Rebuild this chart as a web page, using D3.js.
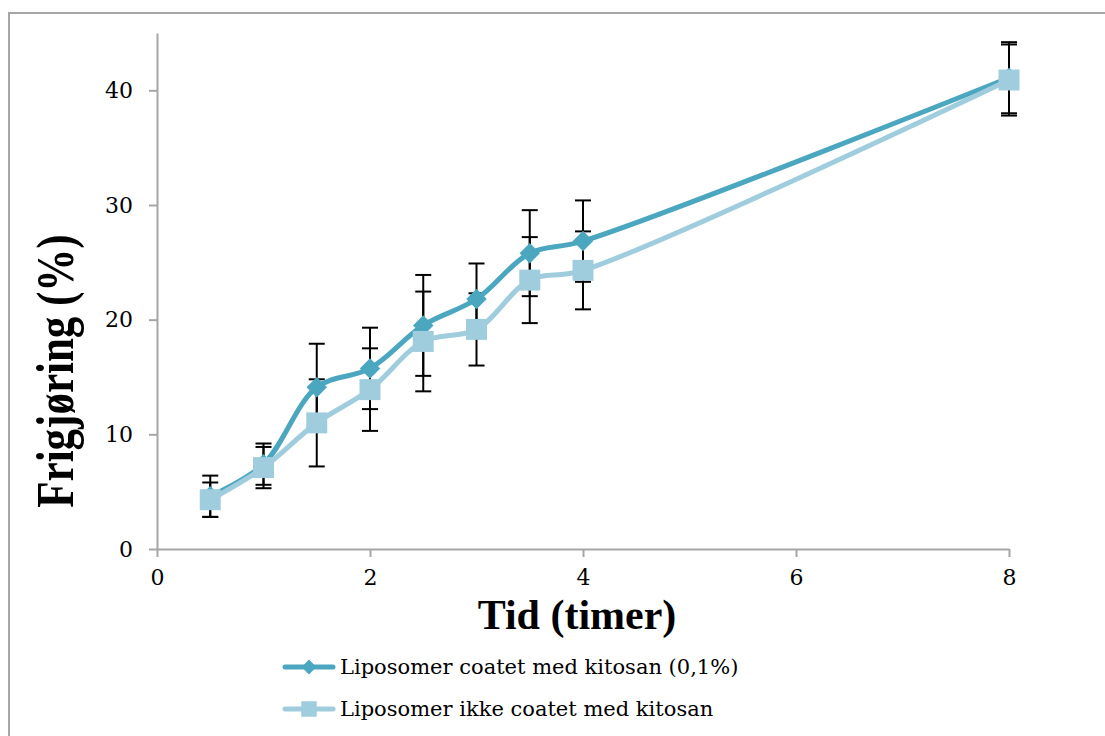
<!DOCTYPE html>
<html>
<head>
<meta charset="utf-8">
<script src="https://cdn.jsdelivr.net/npm/d3@7"></script>
<style>
	body { margin: 0; background: #fff; }
</style>
</head>
<body>
<div id="chart-area"></div>
<script>
// data
var times = [0.5, 1, 1.5, 2, 2.5, 3, 3.5, 4, 8];
var coated = [4.6, 7.4, 14.1, 15.75, 19.5, 21.8, 25.8, 26.85, 41.1];
var coatedErr = [1.8, 1.8, 3.8, 3.55, 4.4, 3.1, 3.75, 3.55, 3.1];
var uncoated = [4.3, 7.1, 11.0, 13.9, 18.1, 19.15, 23.45, 24.3, 40.9];
var uncoatedErr = [1.5, 1.8, 3.8, 3.6, 4.35, 3.15, 3.75, 3.4, 3.1];
var seriesNames = ["Liposomer coatet med kitosan (0,1%)", "Liposomer ikke coatet med kitosan"];
var xTicks = [0, 2, 4, 6, 8];
var yTicks = [0, 10, 20, 30, 40];

var colors = ["#4ba7bf", "#a0cddd"];
var axisColor = "#a6a6a6";
var labelFont = "'DejaVu Serif', serif";
var titleFont = "'Liberation Serif', serif";

var W = 1105, H = 736;
var svg = d3.select("#chart-area")
	.append("svg")
		.attr("width", W)
		.attr("height", H);

// outer chart border (runs off the page right and bottom)
svg.append("rect")
	.attr("x", 9).attr("y", 13)
	.attr("width", 1120).attr("height", 760)
	.attr("fill", "none")
	.attr("stroke", axisColor)
	.attr("stroke-width", 2);

var x = d3.scaleLinear().domain([0, 8]).range([157, 1009]);
var y = d3.scaleLinear().domain([0, 45]).range([549, 33]);

// axes
var xAxis = svg.append("g")
	.attr("transform", "translate(0," + y(0) + ")")
	.call(d3.axisBottom(x).tickValues(xTicks).tickSize(8).tickPadding(12).tickSizeOuter(0));
var yAxis = svg.append("g")
	.attr("transform", "translate(" + x(0) + ",0)")
	.call(d3.axisLeft(y).tickValues(yTicks).tickSize(8).tickPadding(16).tickSizeOuter(0));

[xAxis, yAxis].forEach(function(a) {
	a.select(".domain").attr("stroke", axisColor).attr("stroke-width", 2);
	a.selectAll(".tick line").attr("stroke", axisColor).attr("stroke-width", 2);
	a.selectAll(".tick text")
		.attr("fill", "#000")
		.style("font-family", labelFont)
		.style("font-size", "22px");
});
xAxis.selectAll(".tick text").attr("dy", "0.74em");

// axis titles
svg.append("text")
	.attr("x", 577)
	.attr("y", 629)
	.attr("text-anchor", "middle")
	.style("font-family", titleFont)
	.style("font-size", "42px")
	.style("font-weight", "bold")
	.text("Tid (timer)");

svg.append("text")
	.attr("transform", "translate(73,371) rotate(-90) scale(1,1.25)")
	.attr("text-anchor", "middle")
	.style("font-family", titleFont)
	.style("font-size", "43px")
	.style("font-weight", "bold")
	.text("Frigjøring (%)");

var series = [
	{ name: seriesNames[0], vals: coated, err: coatedErr, color: colors[0], rot: 45, size: 210, lsize: 110 },
	{ name: seriesNames[1], vals: uncoated, err: uncoatedErr, color: colors[1], rot: 0, size: 440, lsize: 240 }
];

// error bars go under everything
var capW = 8;
series.forEach(function(s) {
	var eb = svg.append("g").attr("stroke", "#000").attr("stroke-width", 2);
	times.forEach(function(t, i) {
		var hi = y(s.vals[i] + s.err[i]), lo = y(s.vals[i] - s.err[i]), cx = x(t);
		eb.append("line").attr("x1", cx).attr("x2", cx).attr("y1", hi).attr("y2", lo);
		eb.append("line").attr("x1", cx - capW).attr("x2", cx + capW).attr("y1", hi).attr("y2", hi);
		eb.append("line").attr("x1", cx - capW).attr("x2", cx + capW).attr("y1", lo).attr("y2", lo);
	});
});

var line = d3.line()
	.x(function(d) { return x(d[0]); })
	.y(function(d) { return y(d[1]); })
	.curve(d3.curveCatmullRom.alpha(0.5));

series.forEach(function(s, k) {
	var pts = times.map(function(t, i) { return [t, s.vals[i]]; });
	svg.append("path")
		.datum(pts)
		.attr("d", line)
		.attr("fill", "none")
		.attr("stroke", s.color)
		.attr("stroke-width", 5)
		.attr("stroke-linejoin", "round");

	svg.selectAll(".m" + k)
		.data(pts)
		.enter()
		.append("path")
		.attr("class", "m" + k)
		.attr("transform", function(d) { return "translate(" + x(d[0]) + "," + y(d[1]) + ") rotate(" + s.rot + ")"; })
		.attr("d", d3.symbol().type(d3.symbolSquare).size(s.size))
		.attr("fill", s.color);
});

// legend
var legend = svg.append("g");
series.forEach(function(s, k) {
	var ly = 667 + k * 42;
	legend.append("line")
		.attr("x1", 285).attr("x2", 333)
		.attr("y1", ly).attr("y2", ly)
		.attr("stroke", s.color)
		.attr("stroke-width", 5)
		.attr("stroke-linecap", "round");
	legend.append("path")
		.attr("transform", "translate(309," + ly + ") rotate(" + s.rot + ")")
		.attr("d", d3.symbol().type(d3.symbolSquare).size(s.lsize))
		.attr("fill", s.color);
	legend.append("text")
		.attr("x", 340)
		.attr("y", ly)
		.attr("dy", "0.35em")
		.style("font-family", labelFont)
		.style("font-size", "21px")
		.text(s.name);
});
</script>
</body>
</html>
